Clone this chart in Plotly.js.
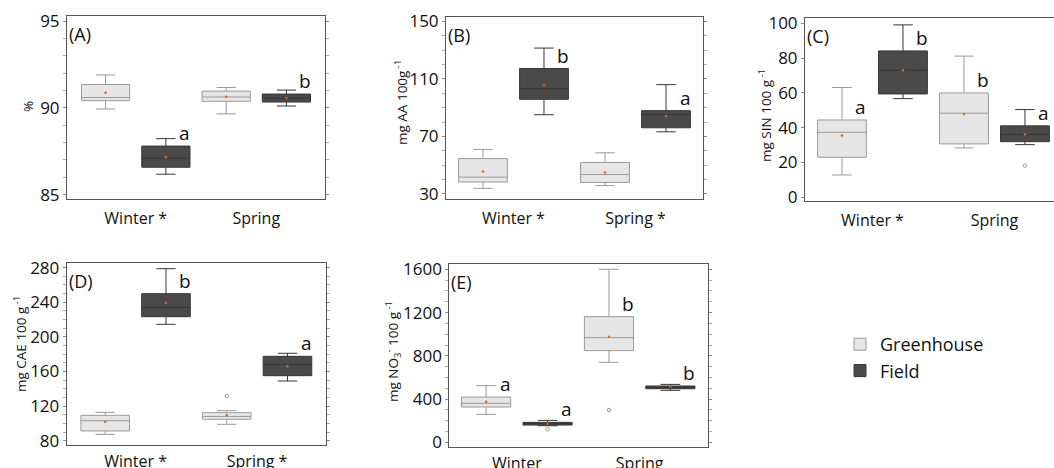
<!DOCTYPE html>
<html>
<head>
<meta charset="utf-8">
<script src="https://cdn.plot.ly/plotly-3.0.1.min.js"></script>
<style>html,body{margin:0;padding:0;background:#fff;}#chart{width:1054px;height:468px;}</style>
</head>
<body>
<div id="chart"></div>
<script>
// ---------- DATA ----------
const categories = ['Winter', 'Spring'];
const seriesNames = ['Greenhouse', 'Field'];

// Panel A (%)
const A_tickText = ['Winter *', 'Spring'];
const A_gh_lf = [89.94, 89.66], A_gh_q1 = [90.42, 90.38], A_gh_med = [90.6, 90.63], A_gh_q3 = [91.35, 90.97], A_gh_uf = [91.9, 91.18], A_gh_mean = [90.87, 90.65], A_gh_out = [null, null];
const A_fi_lf = [86.18, 90.11], A_fi_q1 = [86.58, 90.34], A_fi_med = [87.1, 90.57], A_fi_q3 = [87.8, 90.8], A_fi_uf = [88.23, 91.03], A_fi_mean = [87.15, 90.57], A_fi_out = [null, null];
const A_gh_letters = ['', ''], A_fi_letters = ['a', 'b'];

// Panel B (mg AA 100g-1)
const B_tickText = ['Winter *', 'Spring *'];
const B_gh_lf = [33.9, 35.8], B_gh_q1 = [38.3, 38.0], B_gh_med = [41.7, 43.5], B_gh_q3 = [54.6, 51.9], B_gh_uf = [61.0, 58.6], B_gh_mean = [45.6, 44.9], B_gh_out = [null, null];
const B_fi_lf = [85.1, 73.2], B_fi_q1 = [95.8, 76.0], B_fi_med = [103.2, 85.2], B_fi_q3 = [117.2, 87.9], B_fi_uf = [131.4, 106.0], B_fi_mean = [105.6, 84.2], B_fi_out = [null, null];
const B_gh_letters = ['', ''], B_fi_letters = ['b', 'a'];

// Panel C (mg SIN 100 g-1)
const C_tickText = ['Winter *', 'Spring'];
const C_gh_lf = [12.7, 28.3], C_gh_q1 = [22.9, 30.6], C_gh_med = [37.3, 48.3], C_gh_q3 = [44.4, 60.0], C_gh_uf = [63.1, 81.2], C_gh_mean = [35.4, 47.9], C_gh_out = [null, null];
const C_fi_lf = [56.7, 30.2], C_fi_q1 = [59.4, 31.9], C_fi_med = [73.1, 36.0], C_fi_q3 = [84.2, 41.0], C_fi_uf = [99.2, 50.4], C_fi_mean = [73.0, 36.2], C_fi_out = [null, 18.1];
const C_gh_letters = ['a', 'b'], C_fi_letters = ['b', 'a'];

// Panel D (mg CAE 100 g-1)
const D_tickText = ['Winter *', 'Spring *'];
const D_gh_lf = [87.3, 98.9], D_gh_q1 = [91.2, 104.7], D_gh_med = [103.1, 108.0], D_gh_q3 = [109.3, 112.4], D_gh_uf = [112.7, 114.7], D_gh_mean = [102.0, 109.7], D_gh_out = [null, 131.6];
const D_fi_lf = [214.5, 149.0], D_fi_q1 = [223.3, 155.1], D_fi_med = [234.1, 167.8], D_fi_q3 = [249.9, 177.5], D_fi_uf = [278.8, 181.0], D_fi_mean = [239.5, 165.9], D_fi_out = [null, null];
const D_gh_letters = ['', ''], D_fi_letters = ['b', 'a'];

// Panel E (mg NO3- 100 g-1)
const E_tickText = ['Winter', 'Spring'];
const E_gh_lf = [259, 740], E_gh_q1 = [327, 848], E_gh_med = [361, 968], E_gh_q3 = [419, 1162], E_gh_uf = [524, 1600], E_gh_mean = [376, 977], E_gh_out = [null, 299];
const E_fi_lf = [154, 481], E_fi_q1 = [160, 496], E_fi_med = [173, 509], E_fi_q3 = [185, 521], E_fi_uf = [203, 536], E_fi_mean = [173, 515], E_fi_out = [120, null];
const E_gh_letters = ['a', 'b'], E_fi_letters = ['a', 'b'];

// ---------- LAYOUT / STYLE ----------
const W = 1054, H = 468;
const FONT = 'Open Sans, sans-serif';
const ghStyle = {fill: '#e6e6e6', line: '#9a9a9a'};
const fiStyle = {fill: '#4a4a4a', line: '#363636'};

const panels = [
  {id: '', label: '(A)', title: '%', tickText: A_tickText, px: [67, 325], py: [16, 199], xr: [-0.57, 1.57], yr: [84.75, 95.3], dtick: 5, tick0: 85, minor: 1, tx: 28, ty: 107, mirrorY: true, standoff: 5,
   gh: [A_gh_lf, A_gh_q1, A_gh_med, A_gh_q3, A_gh_uf, A_gh_mean, A_gh_out, A_gh_letters], fi: [A_fi_lf, A_fi_q1, A_fi_med, A_fi_q3, A_fi_uf, A_fi_mean, A_fi_out, A_fi_letters]},
  {id: '2', label: '(B)', title: 'mg AA 100g<sup> -1</sup>', tickText: B_tickText, px: [446, 703], py: [17, 199], xr: [-0.553, 1.553], yr: [26.5, 153], dtick: 40, tick0: 30, minor: 10, tx: 401, ty: 103, mirrorY: true, standoff: 5,
   gh: [B_gh_lf, B_gh_q1, B_gh_med, B_gh_q3, B_gh_uf, B_gh_mean, B_gh_out, B_gh_letters], fi: [B_fi_lf, B_fi_q1, B_fi_med, B_fi_q3, B_fi_uf, B_fi_mean, B_fi_out, B_fi_letters]},
  {id: '3', label: '(C)', title: 'mg SIN 100 g<sup> -1</sup>', tickText: C_tickText, px: [805, 1054], py: [18.3, 201], xr: [-0.553, 1.488], yr: [-2.3, 103], dtick: 20, tick0: 0, minor: 0, tx: 765, ty: 116, mirrorY: false, standoff: 5,
   gh: [C_gh_lf, C_gh_q1, C_gh_med, C_gh_q3, C_gh_uf, C_gh_mean, C_gh_out, C_gh_letters], fi: [C_fi_lf, C_fi_q1, C_fi_med, C_fi_q3, C_fi_uf, C_fi_mean, C_fi_out, C_fi_letters]},
  {id: '4', label: '(D)', title: 'mg CAE 100 g<sup> -1</sup>', tickText: D_tickText, px: [66.7, 326], py: [262.7, 445], xr: [-0.567, 1.567], yr: [75, 285.7], dtick: 40, tick0: 0, minor: 10, tx: 20, ty: 344, mirrorY: true, standoff: 2,
   gh: [D_gh_lf, D_gh_q1, D_gh_med, D_gh_q3, D_gh_uf, D_gh_mean, D_gh_out, D_gh_letters], fi: [D_fi_lf, D_fi_q1, D_fi_med, D_fi_q3, D_fi_uf, D_fi_mean, D_fi_out, D_fi_letters]},
  {id: '5', label: '(E)', title: 'mg NO<sub>3</sub><sup>-</sup> 100 g<sup> -1</sup>', tickText: E_tickText, px: [449.3, 707.7], py: [264.3, 446.7], xr: [-0.55, 1.554], yr: [-40, 1646], dtick: 400, tick0: 0, minor: 100, tx: 393, ty: 352, mirrorY: true, standoff: 2,
   gh: [E_gh_lf, E_gh_q1, E_gh_med, E_gh_q3, E_gh_uf, E_gh_mean, E_gh_out, E_gh_letters], fi: [E_fi_lf, E_fi_q1, E_fi_med, E_fi_q3, E_fi_uf, E_fi_mean, E_fi_out, E_fi_letters]}
];

const traces = [];
const layout = {
  width: W, height: H, margin: {l: 0, r: 0, t: 0, b: 0},
  paper_bgcolor: '#fff', plot_bgcolor: '#fff',
  font: {family: FONT, color: '#1a1a1a'},
  boxmode: 'group', boxgap: 0, boxgroupgap: 0.2,
  scattermode: 'group', scattergap: 0,
  showlegend: true,
  legend: {x: 840 / W, y: 1 - 326 / H, xanchor: 'left', yanchor: 'top', font: {size: 18, family: FONT, color: '#111'},
           bgcolor: 'rgba(0,0,0,0)', itemwidth: 30, tracegroupgap: 0, traceorder: 'normal'},
  annotations: [], shapes: []
};

panels.forEach((p, pi) => {
  const xa = 'x' + p.id, ya = 'y' + p.id;
  const xKey = 'xaxis' + p.id, yKey = 'yaxis' + p.id;
  [[p.gh, ghStyle, seriesNames[0], 0], [p.fi, fiStyle, seriesNames[1], 1]].forEach(([d, st, name, gi]) => {
    traces.push({
      type: 'box', name: name, x: categories,
      lowerfence: d[0], q1: d[1], median: d[2], q3: d[3], upperfence: d[4],
      xaxis: xa, yaxis: ya, offsetgroup: String(gi), legendgroup: name,
      showlegend: pi === 0,
      fillcolor: st.fill, line: {color: st.line, width: 1}, whiskerwidth: 0.4,
      boxpoints: false, hoverinfo: 'skip'
    });
    // mean markers
    traces.push({
      type: 'scatter', mode: 'markers', x: categories, y: d[5], xaxis: xa, yaxis: ya,
      offsetgroup: String(gi), showlegend: false, hoverinfo: 'skip', cliponaxis: false,
      marker: {size: 2.5, color: '#d2691e'}
    });
    // outliers
    traces.push({
      type: 'scatter', mode: 'markers', x: categories, y: d[6], xaxis: xa, yaxis: ya,
      offsetgroup: String(gi), showlegend: false, hoverinfo: 'skip', cliponaxis: false,
      marker: {size: 3.5, symbol: 'circle-open', color: '#999', line: {width: 1}}
    });
    d[7].forEach((letter, ci) => {
      if (!letter) return;
      layout.annotations.push({
        xref: xa, yref: ya, x: ci + (gi === 0 ? -0.25 : 0.25), y: d[3][ci],
        text: letter, showarrow: false, xanchor: 'center', yanchor: 'bottom', xshift: 19, yshift: -2,
        font: {size: 19, family: FONT, color: '#111'}
      });
    });
  });
  layout[xKey] = {
    domain: [p.px[0] / W, p.px[1] / W], range: p.xr, anchor: ya, type: 'category',
    tickmode: 'array', tickvals: categories, ticktext: p.tickText,
    showline: true, linecolor: '#555', linewidth: 1, mirror: true, ticks: '',
    showgrid: false, zeroline: false, fixedrange: true,
    tickfont: {size: 16, family: FONT, color: '#111'}, ticklabelstandoff: p.standoff
  };
  layout[yKey] = {
    domain: [1 - p.py[1] / H, 1 - p.py[0] / H], range: p.yr, anchor: xa,
    tick0: p.tick0, dtick: p.dtick, ticks: 'outside', ticklen: 3, tickcolor: '#888',
    showline: true, linecolor: '#555', linewidth: 1, mirror: p.mirrorY ? 'ticks' : false,
    showgrid: false, zeroline: false, fixedrange: true,
    tickfont: {size: 17, family: FONT, color: '#111'}
  };
  if (p.minor) layout[yKey].minor = {dtick: p.minor, ticks: 'outside', ticklen: 3, tickcolor: '#aaa'};
  // y-axis title
  layout.annotations.push({
    xref: 'paper', yref: 'paper', x: p.tx / W, y: 1 - p.ty / H, xanchor: 'center', yanchor: 'middle',
    text: p.title, textangle: -90, showarrow: false, font: {size: 13.5, family: FONT, color: '#111'}
  });
  // panel label
  layout.annotations.push({
    xref: xa + ' domain', yref: ya + ' domain', x: 0, y: 1, xanchor: 'left', yanchor: 'top',
    text: p.label, showarrow: false, xshift: 0, yshift: -4, font: {size: 18, family: FONT, color: '#111'}
  });
});

Plotly.newPlot('chart', traces, layout, {staticPlot: true, displayModeBar: false});
</script>
</body>
</html>
